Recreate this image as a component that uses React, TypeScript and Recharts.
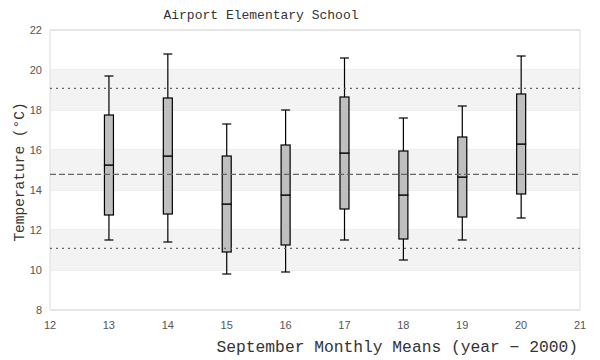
import React from "react";
import {
  ComposedChart, Bar, XAxis, YAxis, CartesianGrid, ReferenceLine, ReferenceArea,
} from "recharts";

// September means, box plot per year (year - 2000)
const years = [13, 14, 15, 16, 17, 18, 19, 20];
const mins = [11.5, 11.4, 9.8, 9.9, 11.5, 10.5, 11.5, 12.6];
const q1s = [12.75, 12.8, 10.9, 11.25, 13.05, 11.55, 12.65, 13.8];
const medians = [15.25, 15.7, 13.3, 13.75, 15.85, 13.75, 14.65, 16.3];
const q3s = [17.75, 18.6, 15.7, 16.25, 18.65, 15.95, 16.65, 18.8];
const maxs = [19.7, 20.8, 17.3, 18.0, 20.6, 17.6, 18.2, 20.7];

const grandMean = 14.78;
const upperLimit = 19.08;
const lowerLimit = 11.08;

const xTicks = [12, 13, 14, 15, 16, 17, 18, 19, 20, 21];
const yTicks = [8, 10, 12, 14, 16, 18, 20, 22];
const bands: [number, number][] = [[10, 12], [14, 16], [18, 20]];

const data = years.map((year, i) => ({
  year,
  base: mins[i],
  lowWhisker: q1s[i] - mins[i],
  lowBox: medians[i] - q1s[i],
  highBox: q3s[i] - medians[i],
  highWhisker: maxs[i] - q3s[i],
}));

const mono = "'Liberation Mono', 'DejaVu Sans Mono', monospace";
const tickFont = { fontSize: 11, fill: "#555", fontFamily: "'Liberation Sans', Arial, sans-serif" };

const Empty = () => <g />;

const WhiskerShape = (capTop: boolean) => (props: any) => {
  const { x, y, width, height } = props;
  const cx = x + width / 2;
  const capY = capTop ? y : y + height;
  return (
    <g stroke="#000" strokeWidth={1.2}>
      <line x1={cx} x2={cx} y1={y} y2={y + height} />
      <line x1={x} x2={x + width} y1={capY} y2={capY} />
    </g>
  );
};

const BoxShape = (props: any) => {
  const { x, y, width, height } = props;
  return <rect x={x} y={y} width={width} height={height} fill="#bfbfbf" stroke="#000" strokeWidth={1.2} />;
};

export default function App() {
  return (
    <div style={{ position: "absolute", left: 0, top: 0, width: 600, height: 360, background: "#fff" }}>
      <ComposedChart width={600} height={360} data={data} margin={{ top: 30, right: 20, bottom: 30, left: 10 }}>
        {bands.map(([a, b]) => (
          <ReferenceArea key={a} y1={a} y2={b} x1={12} x2={21} fill="#f3f3f3" fillOpacity={1} stroke="none" ifOverflow="hidden" />
        ))}
        <CartesianGrid vertical={false} stroke="#dddddd" />
        <ReferenceArea x1={12} x2={21} y1={8} y2={22} fill="none" stroke="#dddddd" strokeWidth={1} />
        <XAxis
          dataKey="year"
          type="number"
          domain={[12, 21]}
          ticks={xTicks}
          interval={0}
          allowDecimals={false}
          axisLine={false}
          tickLine={false}
          tick={tickFont}
          tickMargin={5}
          height={20}
        />
        <YAxis
          type="number"
          domain={[8, 22]}
          ticks={yTicks}
          allowDataOverflow
          axisLine={false}
          tickLine={false}
          tick={tickFont}
          width={40}
        />
        <ReferenceLine y={upperLimit} stroke="#666" strokeDasharray="2 4" strokeWidth={1.2} />
        <ReferenceLine y={grandMean} stroke="#666" strokeDasharray="6 3" strokeWidth={1.2} />
        <ReferenceLine y={lowerLimit} stroke="#666" strokeDasharray="2 4" strokeWidth={1.2} />
        <Bar dataKey="base" stackId="box" barSize={9} shape={Empty} isAnimationActive={false} />
        <Bar dataKey="lowWhisker" stackId="box" barSize={9} shape={WhiskerShape(false)} isAnimationActive={false} />
        <Bar dataKey="lowBox" stackId="box" barSize={9} shape={BoxShape} isAnimationActive={false} />
        <Bar dataKey="highBox" stackId="box" barSize={9} shape={BoxShape} isAnimationActive={false} />
        <Bar dataKey="highWhisker" stackId="box" barSize={9} shape={WhiskerShape(true)} isAnimationActive={false} />
      </ComposedChart>
      <svg width={600} height={360} style={{ position: "absolute", left: 0, top: 0, pointerEvents: "none" }}>
        <text x={261} y={19} textAnchor="middle" fontFamily={mono} fontSize={13} fill="#333">
          Airport Elementary School
        </text>
        <text x={578} y={352} textAnchor="end" fontFamily={mono} fontSize={16.3} fill="#333">
          September Monthly Means (year − 2000)
        </text>
        <text transform="translate(24,172) rotate(-90)" textAnchor="middle" fontFamily={mono} fontSize={14.5} fill="#333">
          Temperature (°C)
        </text>
      </svg>
    </div>
  );
}
